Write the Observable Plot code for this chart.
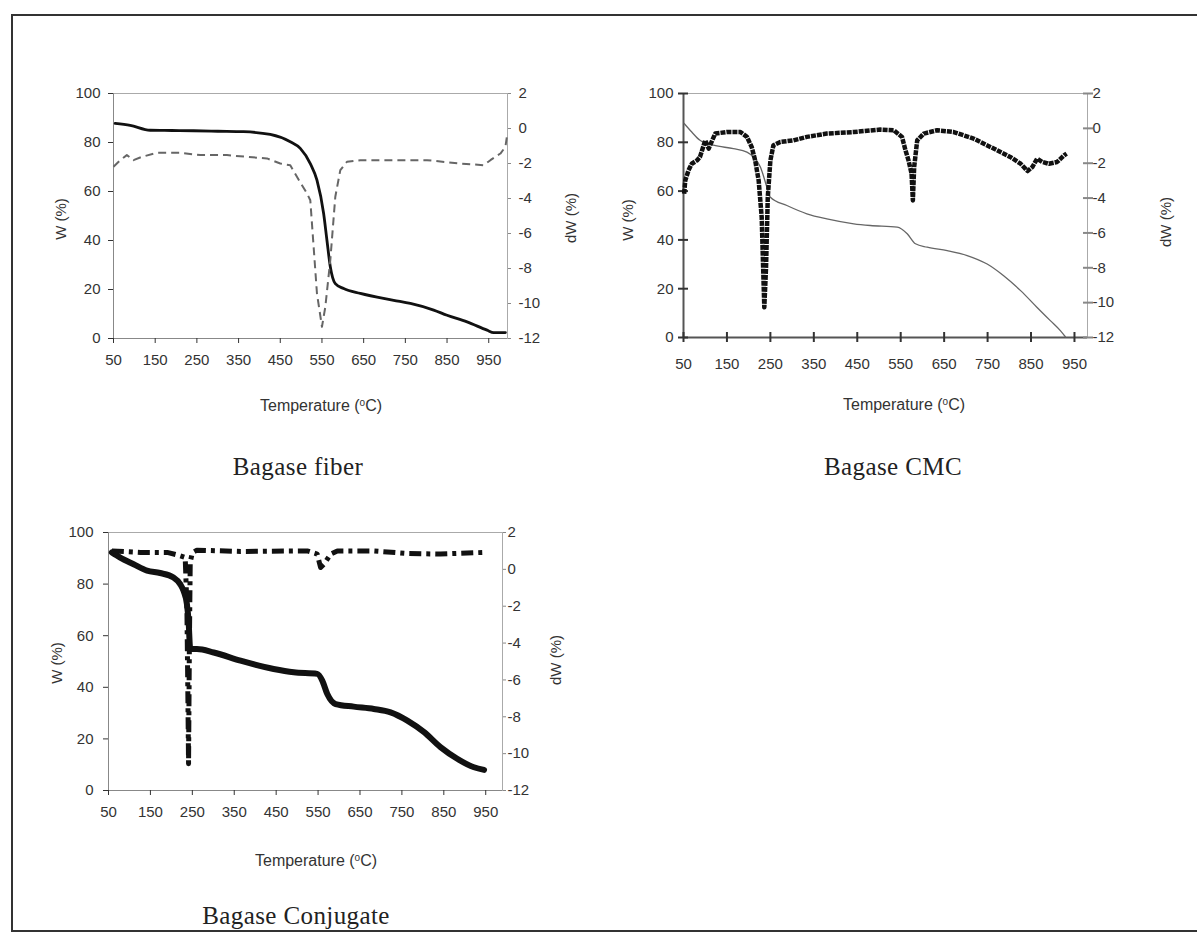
<!DOCTYPE html>
<html><head><meta charset="utf-8">
<script src="https://cdn.jsdelivr.net/npm/d3@7"></script>
<script src="https://cdn.jsdelivr.net/npm/@observablehq/plot@0.6"></script>
<style>
body{margin:0;background:#fff;width:1197px;height:945px;position:relative;overflow:hidden;font-family:"Liberation Sans",Arial,sans-serif;}
.border{position:absolute;left:11px;top:14px;width:1200px;height:914px;border-left:2px solid #333;border-top:2px solid #333;border-bottom:2px solid #333;}
.panel{position:absolute;}
.panel svg{position:absolute;left:0;top:0;overflow:visible;}
.ylab{position:absolute;font-size:15px;line-height:1;color:#333;transform:translate(-50%,-50%) rotate(-90deg);white-space:nowrap;}
.xlab{position:absolute;font-size:16px;line-height:1;color:#333;transform:translate(-50%,-50%);white-space:nowrap;}
.xlab sup{font-size:10px;vertical-align:5px;}
.cap{position:absolute;font-family:"Liberation Serif","Times New Roman",serif;font-size:25px;letter-spacing:0.4px;line-height:1;color:#222;transform:translate(-50%,-50%);white-space:nowrap;}
</style></head><body>
<div class="border"></div>
<div id="root"></div>
<script>
// ---- tick labels ----
const tempTicks = [50,150,250,350,450,550,650,750,850,950];
const wTicks = [0,20,40,60,80,100];
const dwTicks = [-12,-10,-8,-6,-4,-2,0,2];

// ---- Bagase fiber ----
const fiberWTemp = [54,90,138,190,242,300,362,426,474,498,522,538,554,562,570,582,602,642,722,762,818,850,898,946,962,990];
const fiberW = [87.8,87,85,84.9,84.8,84.6,84.4,83.3,80.3,77.6,71.4,64.6,51,40,29.3,22.4,20.4,18.4,15.6,14.3,11.6,9.5,6.8,3.4,2.4,2.4];
const fiberDTemp = [50,66,82,98,118,154,210,258,322,370,418,450,474,490,514,522,530,538,550,558,570,582,594,610,642,722,802,882,938,954,978,990,994];
const fiberDW = [-2.19,-1.81,-1.52,-1.81,-1.62,-1.39,-1.39,-1.52,-1.52,-1.62,-1.71,-2.0,-2.1,-2.76,-3.71,-4.1,-6.76,-9.43,-11.33,-10.2,-7.52,-3.9,-2.38,-1.9,-1.81,-1.81,-1.81,-2.0,-2.1,-1.81,-1.43,-1.05,-0.38];

// ---- Bagase CMC ----
const cmcWTemp = [51.5,69,88,119,165,196,211,227,242,250,288,334,380,442,480,542,565,584,611,657,703,749,787,826,864,895,918,929];
const cmcW = [87.7,84.2,80.8,78.8,77.4,76,74,69.9,61.6,57.5,54.1,50.7,48.6,46.6,45.9,45.2,42.5,38.4,37.0,35.6,33.6,30.1,25.3,19.2,12.3,6.8,2.7,0.3];
const cmcDTemp = [51.5,54,61.5,69,81,88,100,108,123,150,181,196,207,215,223,230,236,240,244,250,257,273,303,334,380,442,503,534,553,561,568,575,578,581,588,603,634,672,718,764,802,826,842,853,864,876,891,910,926,932];
const cmcDW = [-3.75,-2.99,-2.41,-2.03,-1.84,-1.64,-0.69,-1.16,-0.30,-0.21,-0.21,-0.49,-1.07,-1.84,-2.99,-5.1,-10.27,-7.97,-3.95,-1.84,-0.97,-0.78,-0.69,-0.49,-0.30,-0.21,-0.07,-0.11,-0.49,-1.26,-1.84,-2.6,-4.14,-2.22,-0.69,-0.30,-0.11,-0.21,-0.59,-1.16,-1.64,-2.03,-2.45,-2.22,-1.74,-1.93,-2.03,-1.93,-1.55,-1.45];

// ---- Bagase Conjugate ----
const conjWTemp = [58,78,110,142,173,205,221,229,237,241,245,261,301,365,444,492,548,560,572,592,635,683,723,763,803,842,882,922,946];
const conjW = [92.3,90.3,87.7,85.2,84.3,82.6,80,77.4,72.3,65.8,54.8,54.8,53.5,50.3,47.1,45.8,45.2,42.6,37.4,33.5,32.5,31.6,30.3,27.1,22.6,16.8,12.3,9.0,8.0];
const conjDTemp = [58,126,190,221,233,237,239,241,243,245,250,261,365,524,548,556,564,580,596,683,763,842,946];
const conjDW = [1.0,0.92,0.92,0.74,0.65,-2,-6,-10.55,-4,0.4,0.9,1.04,0.97,1.0,0.83,0.10,0.28,0.83,1.0,1.0,0.86,0.83,0.92];

const zipT = (ts, vs) => ts.map((t,i) => ({T:t, v:vs[i]}));

const panels = [
  {left:30, top:70, w:560, h:300, m:[23,83,32,83], xDomain:[50,995],
   wData: zipT(fiberWTemp, fiberW), dData: zipT(fiberDTemp, fiberDW),
   wStyle:{stroke:"#111", strokeWidth:2.8, curve:"monotone-x"},
   dStyle:{stroke:"#666", strokeWidth:2, strokeDasharray:"8,5", strokeLinecap:"butt", curve:"linear"},
   xTick:{tickSize:5, dy:0}, yTick:{tickSize:5, tickPadding:8, dx:0}, rTick:{tickSize:3, tickPadding:8},
   axisStroke:"#888", axisW:1},
  {left:600, top:70, w:560, h:300, m:[23,73,33,83], xDomain:[50,980],
   wData: zipT(cmcWTemp, cmcW), dData: zipT(cmcDTemp, cmcDW),
   wStyle:{stroke:"#666", strokeWidth:1.3, curve:"monotone-x"},
   dStyle:{stroke:"#111", strokeWidth:4.5, strokeDasharray:"5,1", strokeLinecap:"butt", curve:"linear"},
   xTick:{tickSize:10, dy:-5}, yTick:{tickSize:10, tickPadding:5, dx:5}, rTick:{tickSize:10, tickPadding:0, dx:-5},
   axisStroke:"#555", axisW:2},
  {left:30, top:510, w:560, h:310, m:[22,88,30,78], xDomain:[50,990],
   wData: zipT(conjWTemp, conjW), dData: zipT(conjDTemp, conjDW),
   wStyle:{stroke:"#111", strokeWidth:6, curve:"monotone-x"},
   dStyle:{stroke:"#111", strokeWidth:5, strokeDasharray:"12,5,4,5", strokeLinecap:"butt", curve:"linear"},
   xTick:{tickSize:5, dy:0}, yTick:{tickSize:5, tickPadding:10, dx:0}, rTick:{tickSize:3, tickPadding:2},
   axisStroke:"#888", axisW:1}
];

const style = {background:"transparent", fontFamily:"'Liberation Sans', Arial, sans-serif", fontSize:"15px", color:"#333", overflow:"visible"};

const root = document.getElementById("root");
for (const p of panels) {
  const div = document.createElement("div");
  div.className = "panel";
  div.style.left = p.left + "px"; div.style.top = p.top + "px";
  div.style.width = p.w + "px"; div.style.height = p.h + "px";
  const common = {width:p.w, height:p.h, marginTop:p.m[0], marginRight:p.m[1], marginBottom:p.m[2], marginLeft:p.m[3], style};
  const base = Plot.plot({...common,
    x:{domain:p.xDomain},
    y:{domain:[0,100]},
    marks:[
      Plot.frame({stroke:"#aaa"}),
      Plot.ruleY([0], {stroke:p.axisStroke, strokeWidth:p.axisW}),
      Plot.ruleX([p.xDomain[0]], {stroke:p.axisStroke, strokeWidth:p.axisW}),
      Plot.axisX({ticks:tempTicks, tickFormat:d=>d, label:null, tickSize:p.xTick.tickSize, dy:p.xTick.dy, tickPadding:11-p.xTick.dy, strokeWidth:p.axisW}),
      Plot.axisY({ticks:wTicks, tickFormat:d=>d, label:null, tickSize:p.yTick.tickSize, tickPadding:p.yTick.tickPadding, dx:p.yTick.dx, strokeWidth:p.axisW}),
      Plot.line(p.wData, {x:"T", y:"v", ...p.wStyle})
    ]});
  const over = Plot.plot({...common,
    x:{domain:p.xDomain, axis:null},
    y:{domain:[-12,2]},
    marks:[
      Plot.axisY({anchor:"right", ticks:dwTicks, tickFormat:d=>d, label:null, tickSize:p.rTick.tickSize, tickPadding:p.rTick.tickPadding, dx:p.rTick.dx||0, strokeWidth:p.axisW, stroke:"#888"}),
      Plot.line(p.dData, {x:"T", y:"v", ...p.dStyle})
    ]});
  div.appendChild(base); div.appendChild(over);
  root.appendChild(div);
}

const texts = [
  ["ylab","W (%)",60,219],["ylab","dW (%)",570,218],
  ["ylab","W (%)",627,220],["ylab","dW (%)",1165,222],
  ["ylab","W (%)",56,663],["ylab","dW (%)",555,660],
  ["xlab","Temperature (<sup>o</sup>C)",321,406],["xlab","Temperature (<sup>o</sup>C)",904,405],["xlab","Temperature (<sup>o</sup>C)",316,861],
  ["cap","Bagase fiber",298,466],["cap","Bagase CMC",893,466],["cap","Bagase Conjugate",296,915]
];
for (const [cls, html, x, y] of texts) {
  const d = document.createElement("div");
  d.className = cls; d.innerHTML = html;
  d.style.left = x + "px"; d.style.top = y + "px";
  document.body.appendChild(d);
}
</script>
</body></html>
